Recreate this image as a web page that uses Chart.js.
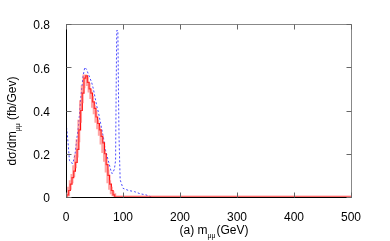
<!DOCTYPE html>
<html>
<head>
<meta charset="utf-8">
<script src="https://cdn.jsdelivr.net/npm/chart.js@4/dist/chart.umd.min.js"></script>
<style>
  html, body { margin: 0; padding: 0; background: #fff; }
  #wrap { width: 390px; height: 241px; }
</style>
</head>
<body>
<div id="wrap"><canvas id="chart"></canvas></div>
<script>
const xTicks = [0, 100, 200, 300, 400, 500];
const yTicks = [0, 0.2, 0.4, 0.6, 0.8];

const redX = [0, 3, 6, 9, 12, 15, 18, 21, 24, 27, 30, 33, 36, 39, 42, 45, 48, 51, 54, 57, 60, 63, 66, 69, 72, 75, 78, 81, 84, 87, 500];
const redY = [0, 0.01, 0.03, 0.06, 0.09, 0.12, 0.16, 0.22, 0.31, 0.40, 0.48, 0.55, 0.56, 0.53, 0.50, 0.48, 0.44, 0.41, 0.37, 0.34, 0.31, 0.28, 0.25, 0.20, 0.15, 0.10, 0.06, 0.03, 0.01, 0, 0];
const pinkY = [0, 0.01, 0.04, 0.07, 0.10, 0.14, 0.19, 0.26, 0.35, 0.44, 0.51, 0.56, 0.55, 0.52, 0.49, 0.46, 0.42, 0.39, 0.35, 0.32, 0.29, 0.25, 0.21, 0.17, 0.12, 0.07, 0.04, 0.02, 0.01, 0, 0];

const blueX = [0, 2, 4, 6, 8, 12, 16, 19, 22, 26, 30, 33, 36, 39, 42, 45, 48, 51, 54, 57, 60, 63, 66, 68, 71, 74, 78, 80, 82, 85, 87, 88, 89, 91, 92, 93, 95, 100, 110, 120, 130, 140, 150];
const blueY = [0.34, 0.30, 0.24, 0.17, 0.16, 0.155, 0.20, 0.27, 0.33, 0.46, 0.56, 0.60, 0.59, 0.57, 0.55, 0.53, 0.50, 0.46, 0.42, 0.39, 0.35, 0.31, 0.27, 0.23, 0.20, 0.17, 0.13, 0.11, 0.11, 0.13, 0.17, 0.50, 0.77, 0.77, 0.50, 0.28, 0.08, 0.04, 0.03, 0.025, 0.015, 0.01, 0];

const font = '"Liberation Sans", Arial, sans-serif';

function pts(xs, ys) {
    return xs.map((x, i) => ({ x: x, y: ys[i] }));
}

// box, inward ticks and the axis titles with subscripts
const framePlugin = {
    id: 'frame',
    afterDraw(chart) {
        const c = chart.ctx;
        const a = chart.chartArea;
        const xs = chart.scales.x, ys = chart.scales.y;
        const L = Math.round(a.left) + 0.5, R = Math.round(a.right) + 0.5;
        const T = Math.round(a.top) + 0.5, B = Math.round(a.bottom) + 0.5;
        c.save();
        c.lineWidth = 1;
        c.strokeStyle = '#888';
        c.beginPath();
        c.moveTo(L, T); c.lineTo(R, T); c.lineTo(R, B);
        c.stroke();
        c.strokeStyle = '#000';
        c.beginPath();
        c.moveTo(L, T); c.lineTo(L, B); c.lineTo(R, B);
        c.stroke();
        c.strokeStyle = '#666';
        c.beginPath();
        xTicks.forEach(v => {
            const px = Math.round(xs.getPixelForValue(v)) + 0.5;
            c.moveTo(px, B); c.lineTo(px, B - 5);
            c.moveTo(px, T); c.lineTo(px, T + 5);
        });
        yTicks.forEach(v => {
            const py = Math.round(ys.getPixelForValue(v)) + 0.5;
            c.moveTo(L, py); c.lineTo(L + 5, py);
            c.moveTo(R, py); c.lineTo(R - 5, py);
        });
        c.stroke();

        c.fillStyle = '#000';
        c.textBaseline = 'alphabetic';
        // x title
        const big = '12px ' + font, small = '7px ' + font;
        c.font = big;
        const p1 = '(a) m', p3 = '(GeV)';
        const w1 = c.measureText(p1).width, w3 = c.measureText(p3).width;
        c.font = small;
        const w2 = c.measureText('μμ').width + 1;
        let x0 = 214 - (w1 + w2 + w3) / 2;
        const yb = 234;
        c.font = big; c.textAlign = 'left';
        c.fillText(p1, x0, yb);
        c.font = small; c.fillText('μμ', x0 + w1, yb + 4);
        c.font = big; c.fillText(p3, x0 + w1 + w2, yb);

        // y title, rotated
        c.translate(16, 121);
        c.rotate(-Math.PI / 2);
        const q1 = 'dσ/dm', q3 = ' (fb/Gev)';
        c.font = big;
        const v1 = c.measureText(q1).width, v3 = c.measureText(q3).width;
        c.font = small;
        const v2 = c.measureText('μμ').width;
        let s0 = -(v1 + v2 + v3) / 2;
        c.font = big; c.fillText(q1, s0, 0);
        c.font = small; c.fillText('μμ', s0 + v1, 4);
        c.font = big; c.fillText(q3, s0 + v1 + v2, 0);
        c.restore();
    }
};

new Chart(document.getElementById('chart'), {
    type: 'scatter',
    data: {
        datasets: [{
            data: pts(redX, pinkY),
            showLine: true,
            borderColor: 'rgba(255, 90, 90, 0.55)',
            borderWidth: 3,
            pointRadius: 0,
            stepped: 'middle'
        }, {
            data: pts(redX, redY),
            showLine: true,
            borderColor: '#ff0000',
            borderWidth: 1.2,
            pointRadius: 0,
            stepped: 'middle'
        }, {
            data: pts(blueX, blueY),
            showLine: true,
            borderColor: '#4a4aff',
            borderWidth: 1,
            borderDash: [2, 2],
            pointRadius: 0
        }]
    },
    options: {
        responsive: true,
        maintainAspectRatio: false,
        animation: false,
        layout: { padding: { left: 0, right: 39, top: 24, bottom: 0 } },
        plugins: { legend: { display: false }, tooltip: { enabled: false } },
        scales: {
            x: {
                type: 'linear',
                min: 0,
                max: 500,
                grid: { display: false },
                border: { display: false },
                afterFit(s) { s.height = 44; },
                afterBuildTicks(s) { s.ticks = xTicks.map(v => ({ value: v })); },
                ticks: { color: '#000', padding: 5, font: { family: font, size: 12 } }
            },
            y: {
                type: 'linear',
                min: 0,
                max: 0.8,
                grid: { display: false },
                border: { display: false },
                afterFit(s) { s.width = 66; },
                afterBuildTicks(s) { s.ticks = yTicks.map(v => ({ value: v })); },
                ticks: { color: '#000', padding: 8, labelOffset: 2, font: { family: font, size: 12 } }
            }
        }
    },
    plugins: [framePlugin]
});
</script>
</body>
</html>
